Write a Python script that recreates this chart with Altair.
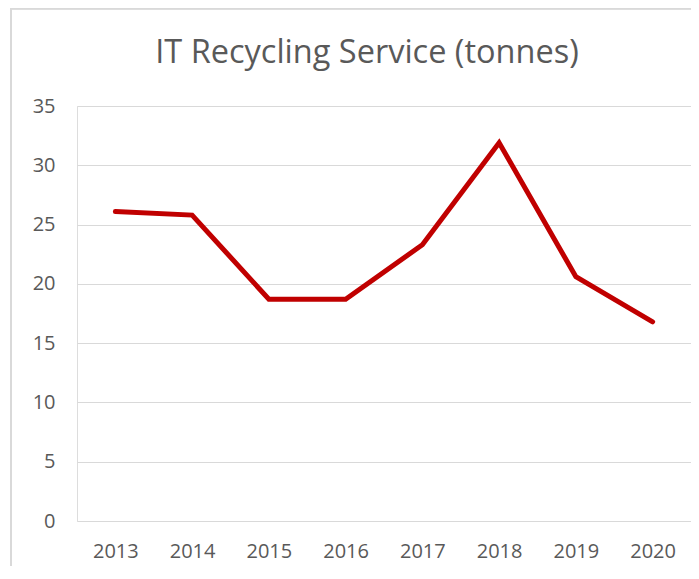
import altair as alt
import pandas as pd

years = ["2013", "2014", "2015", "2016", "2017", "2018", "2019", "2020"]
tonnes = [26.1, 25.8, 18.7, 18.7, 23.3, 31.9, 20.6, 16.8]

df = pd.DataFrame({"Year": years, "Tonnes": tonnes})

line = alt.Chart(df).mark_line(
    color="#C00000", strokeWidth=5, strokeCap="round", strokeJoin="miter"
).encode(
    x=alt.X("Year:N", sort=years, title=None,
            scale=alt.Scale(type="point", padding=0.5),
            axis=alt.Axis(labelAngle=0, labelFont="Open Sans", labelFontSize=20,
                          labelColor="#595959", ticks=False, domain=False,
                          labelPadding=20, grid=False)),
    y=alt.Y("Tonnes:Q", title=None,
            scale=alt.Scale(domain=[0, 35], nice=False, zero=True),
            axis=alt.Axis(values=[0, 5, 10, 15, 20, 25, 30, 35], labelFont="Open Sans",
                          labelFontSize=20, labelColor="#595959", ticks=False,
                          domain=False, labelPadding=22, gridColor="#D9D9D9",
                          gridWidth=1.2)),
)

border_left = alt.Chart(df).mark_rule(color="#D9D9D9", strokeWidth=1.5).encode(
    x=alt.value(-66), y=alt.value(-98), y2=alt.value(480)
)
border_top = alt.Chart(df).mark_rule(color="#D9D9D9", strokeWidth=1.5).encode(
    x=alt.value(-66), x2=alt.value(640), y=alt.value(-97.5)
)

chart = alt.layer(border_left, border_top, line).properties(
    width=614,
    height=415,
    padding={"left": 69, "top": 98, "right": 0, "bottom": 45},
    autosize=alt.AutoSizeParams(type="none"),
    title=alt.TitleParams(
        "IT Recycling Service (tonnes)", font="Open Sans", fontSize=32.5,
        fontWeight="normal", color="#595959", anchor="middle", baseline="alphabetic",
        frame="group", offset=-88, dx=-17
    ),
).configure_view(stroke=None).configure(background="white")

chart.save("out.html", embed_options={"renderer": "svg", "actions": False})
